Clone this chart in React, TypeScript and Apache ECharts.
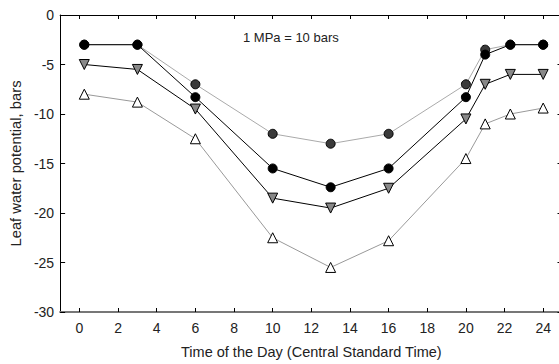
import React, { useEffect, useRef } from "react";
import * as echarts from "echarts";

const hours = [0.25, 3, 6, 10, 13, 16, 20, 21, 22.3, 24];
const seriesA = [-3, -3, -7, -12, -13, -12, -7, -3.5, -3, -3];
const seriesB = [-3, -3, -8.3, -15.5, -17.4, -15.5, -8.3, -4, -3, -3];
const seriesC = [-5, -5.5, -9.5, -18.5, -19.5, -17.5, -10.5, -7, -6, -6];
const seriesD = [-8, -8.8, -12.5, -22.5, -25.5, -22.8, -14.5, -11, -10, -9.4];
const xTicks = [0, 2, 4, 6, 8, 10, 12, 14, 16, 18, 20, 22, 24];

const FONT = "Arial";

function pairs(ys: number[]) {
  return hours.map((h, i) => [h, ys[i]]);
}

export default function App() {
  const ref = useRef<HTMLDivElement>(null);
  useEffect(() => {
    document.body.style.margin = "0";
    const chart = echarts.init(ref.current!, null, { renderer: "svg" });
    const mk = (
      name: string,
      ys: number[],
      lineColor: string,
      symbol: string,
      fill: string,
      size: number
    ) => ({
      name,
      type: "line",
      data: pairs(ys),
      symbol,
      symbolSize: size,
      showAllSymbol: true,
      lineStyle: { color: lineColor, width: 1 },
      itemStyle: { color: fill, borderColor: "#000", borderWidth: 1 },
      z: 3,
    });
    chart.setOption({
      animation: false,
      backgroundColor: "#fff",
      textStyle: { fontFamily: FONT },
      grid: { left: 58.5, top: 15, right: 7.5, bottom: 49 },
      xAxis: [
        {
          type: "value",
          min: -1,
          max: 25,
          position: "bottom",
          name: "Time of the Day (Central Standard Time)",
          nameLocation: "middle",
          nameGap: 32,
          nameTextStyle: { fontSize: 14.5, color: "#222", fontFamily: FONT },
          axisLine: { show: true, onZero: false, lineStyle: { color: "#777", width: 2 } },
          axisTick: { show: true, inside: true, length: 4, customValues: xTicks, lineStyle: { color: "#000" } },
          axisLabel: { customValues: xTicks, fontSize: 14, color: "#222", margin: 9, fontFamily: FONT },
          splitLine: { show: false },
        },
        {
          type: "value",
          min: -1,
          max: 25,
          position: "top",
          axisLine: { show: true, onZero: false, lineStyle: { color: "#000", width: 1 } },
          axisTick: { show: true, inside: true, length: 4, customValues: xTicks, lineStyle: { color: "#000" } },
          axisLabel: { show: false },
          splitLine: { show: false },
        },
      ],
      yAxis: [
        {
          type: "value",
          min: -30,
          max: 0,
          interval: 5,
          position: "left",
          name: "Leaf water potential, bars",
          nameLocation: "middle",
          nameGap: 35,
          nameTextStyle: { fontSize: 14.8, color: "#222", fontFamily: FONT },
          axisLine: { show: true, onZero: false, lineStyle: { color: "#000", width: 1 } },
          axisTick: { show: true, inside: true, length: 5, lineStyle: { color: "#000" } },
          axisLabel: { fontSize: 14, color: "#222", margin: 6, fontFamily: FONT },
          splitLine: { show: false },
        },
        {
          type: "value",
          min: -30,
          max: 0,
          interval: 5,
          position: "right",
          axisLine: { show: true, onZero: false, lineStyle: { color: "#000", width: 1 } },
          axisTick: { show: true, inside: true, length: 5, lineStyle: { color: "#000" } },
          axisLabel: { show: false },
          splitLine: { show: false },
        },
      ],
      graphic: [
        {
          type: "text",
          left: 243,
          top: 31,
          style: { text: "1 MPa = 10 bars", fontSize: 13, fill: "#222", fontFamily: FONT },
        },
      ],
      series: [
        mk("A", seriesA, "#aaa", "circle", "#3a3a3a", 9),
        mk("B", seriesB, "#000", "circle", "#000", 9),
        mk("C", seriesC, "#000", "path://M0,0 L10,0 L5,8.66 Z", "#888", 10),
        mk("D", seriesD, "#999", "triangle", "#fff", 10),
      ],
    });
    return () => chart.dispose();
  }, []);
  return (
    <div style={{ width: 559, height: 364, overflow: "hidden" }}>
      <div ref={ref} style={{ width: 570, height: 364 }} />
    </div>
  );
}
